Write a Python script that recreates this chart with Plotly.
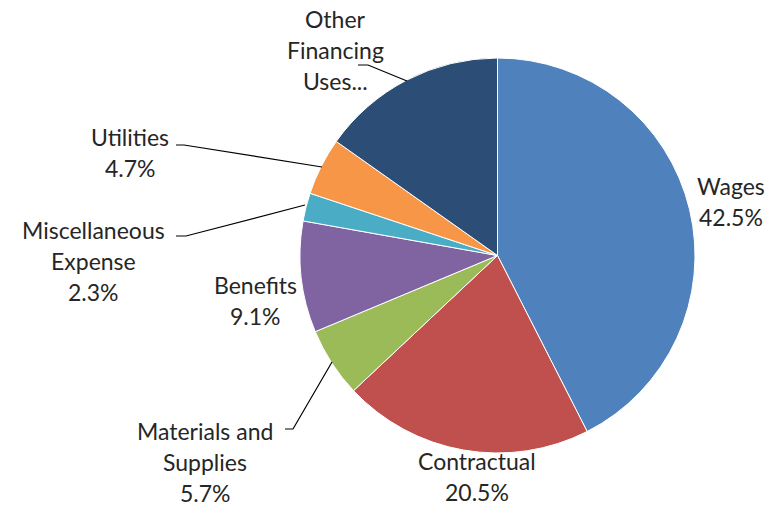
import plotly.graph_objects as go

categories = ["Wages", "Contractual", "Materials and Supplies", "Benefits",
              "Miscellaneous Expense", "Utilities", "Other Financing Uses..."]
values = [42.5, 20.5, 5.7, 9.1, 2.3, 4.7, 15.2]
colors = ["#4F81BD", "#C0504D", "#9BBB59", "#8064A2", "#4BACC6", "#F79646", "#2C4D75"]

# label text lines (name lines) per category
label_lines = {
    "Wages": ["Wages"],
    "Contractual": ["Contractual"],
    "Materials and Supplies": ["Materials and", "Supplies"],
    "Benefits": ["Benefits"],
    "Miscellaneous Expense": ["Miscellaneous", "Expense"],
    "Utilities": ["Utilities"],
    "Other Financing Uses...": ["Other", "Financing", "Uses..."],
}
show_pct = {"Other Financing Uses...": False}

W, H = 768, 507
# label anchor (center x, first line y) in pixels
label_pos = {
    "Wages": (731, 186),
    "Contractual": (477, 461),
    "Materials and Supplies": (205, 431),
    "Benefits": (255, 285),
    "Miscellaneous Expense": (93, 230),
    "Utilities": (130, 137),
    "Other Financing Uses...": (335, 19),
}
line_gap = 31
leaders = {
    "Other Financing Uses...": [(358, 65), (368, 65), (407, 81)],
    "Utilities": [(176, 145), (184, 145), (322, 167)],
    "Miscellaneous Expense": [(176, 236), (186, 236), (305, 205)],
    "Materials and Supplies": [(285, 429), (293, 429), (332, 362)],
}

cx, cy, r = 497.5, 255.5, 197.5

def px(x, y):
    return x / W, 1 - y / H

fig = go.Figure(go.Pie(
    labels=categories, values=values, sort=False, direction="clockwise",
    rotation=0, marker=dict(colors=colors, line=dict(color="white", width=1)),
    textinfo="none", hoverinfo="label+percent", showlegend=False,
    domain=dict(x=[(cx - r) / W, (cx + r) / W], y=[1 - (cy + r) / H, 1 - (cy - r) / H]),
))

font = dict(family="Lato", size=23, color="#262626")
anns = []
for cat, v in zip(categories, values):
    lines = list(label_lines[cat])
    if show_pct.get(cat, True):
        lines.append(f"{v:.1f}%")
    x0, y0 = label_pos[cat]
    for i, t in enumerate(lines):
        ax, ay = px(x0, y0 + i * line_gap)
        anns.append(dict(x=ax, y=ay, xref="paper", yref="paper", text=t,
                         showarrow=False, xanchor="center", yanchor="middle", font=font))

shapes = []
for cat, pts in leaders.items():
    path = "M " + " L ".join(f"{px(x, y)[0]},{px(x, y)[1]}" for x, y in pts)
    shapes.append(dict(type="path", xref="paper", yref="paper", path=path,
                       line=dict(color="#000000", width=1.2)))

fig.update_layout(width=W, height=H, margin=dict(l=0, r=0, t=0, b=0),
                  paper_bgcolor="white", plot_bgcolor="white",
                  annotations=anns, shapes=shapes)
fig.write_html("out.html", config={"displayModeBar": False},
               post_script="document.body.style.margin='0';document.body.style.overflow='hidden';")
